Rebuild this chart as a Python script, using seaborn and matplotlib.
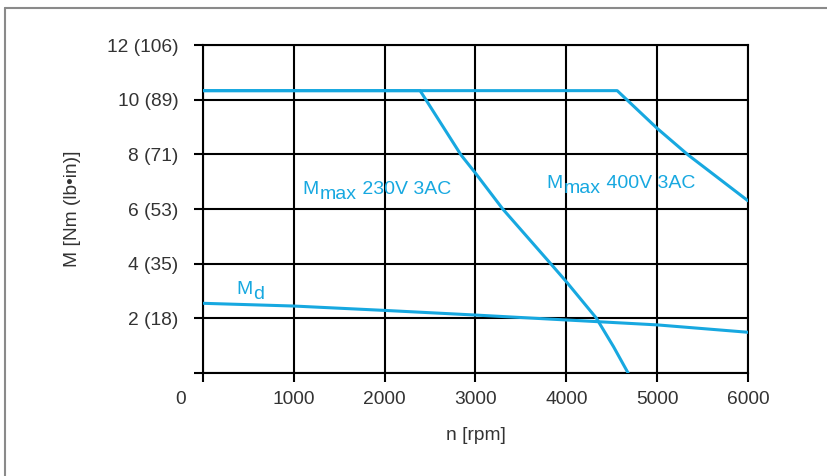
import numpy as np
import pandas as pd
import matplotlib
matplotlib.use("Agg")
import matplotlib.pyplot as plt
import matplotlib.transforms as mtransforms
from matplotlib.lines import Line2D
import seaborn as sns

# speed [rpm] / torque [Nm]
rpm_230 = [0, 2390, 2840, 3000, 3300, 3830, 4000, 4330, 4520, 4680]
torque_230 = [10.33, 10.33, 7.98, 7.31, 6.0, 3.99, 3.34, 2.01, 0.96, 0.0]

rpm_400 = [0, 4560, 5000, 5340, 6000]
torque_400 = [10.33, 10.33, 8.95, 7.98, 6.30]

rpm_md = [0, 1000, 2000, 3000, 4000, 5000, 6000]
torque_md = [2.55, 2.45, 2.29, 2.12, 1.94, 1.76, 1.49]

x_ticks = [0, 1000, 2000, 3000, 4000, 5000, 6000]
y_ticks = [0, 2, 4, 6, 8, 10, 12]
y_tick_labels = ["", "2 (18)", "4 (35)", "6 (53)", "8 (71)", "10 (89)", "12 (106)"]

sns.set_theme(style="white")
plt.rcParams["font.family"] = ["Liberation Sans", "DejaVu Sans"]

blue = "#17a8e0"
txt = "#333333"
lw_grid = 1.5

fig = plt.figure(figsize=(8.27, 4.76), dpi=100)
ax = fig.add_axes([203 / 827, 1 - 373 / 476, 545 / 827, 328 / 476])

df_230 = pd.DataFrame({"rpm": rpm_230, "M": torque_230})
df_400 = pd.DataFrame({"rpm": rpm_400, "M": torque_400})
df_md = pd.DataFrame({"rpm": rpm_md, "M": torque_md})

for d in (df_230, df_400, df_md):
    sns.lineplot(data=d, x="rpm", y="M", ax=ax, color=blue, linewidth=2.2,
                 sort=False, estimator=None, zorder=5)

ax.set_xlim(0, 6000)
ax.set_ylim(0, 12)
ax.set_xticks(x_ticks)
ax.set_xticklabels([str(v) for v in x_ticks])
ax.set_yticks(y_ticks)
ax.set_yticklabels(y_tick_labels)

ax.grid(True, color="black", linewidth=lw_grid)
ax.set_axisbelow(True)
for s in ax.spines.values():
    s.set_visible(True)
    s.set_color("black")
    s.set_linewidth(lw_grid)

ax.tick_params(axis="both", which="both", direction="out", length=6.8, width=lw_grid,
               color="black", labelsize=13.8, labelcolor=txt,
               bottom=True, left=True)
ax.tick_params(axis="y", pad=11)
ax.tick_params(axis="x", pad=6)

# the "0" label sits left of the origin
lab0 = ax.get_xticklabels()[0]
lab0.set_transform(lab0.get_transform() + mtransforms.ScaledTranslation(-0.22, 0, fig.dpi_scale_trans))

ax.set_xlabel("n [rpm]", fontsize=13.8, color=txt)
ax.set_ylabel("M [Nm (lb•in)]", fontsize=13.8, color=txt)
ax.xaxis.set_label_coords(0.5, -0.165)
ax.yaxis.set_label_coords(-0.224, 0.5)


def sub_label(x, y, sub, rest):
    t1 = ax.text(x, y, "M", color=blue, fontsize=14, va="baseline", ha="left", zorder=6)
    t2 = ax.annotate(sub, xy=(1, 0), xycoords=t1, xytext=(0.5, -3.5), textcoords="offset points",
                     color=blue, fontsize=14, va="bottom", ha="left", zorder=6)
    if rest:
        ax.annotate(rest, xy=(1, 0), xycoords=t2, xytext=(0, 3.5), textcoords="offset points",
                    color=blue, fontsize=14, va="bottom", ha="left", zorder=6)


sub_label(1098, 6.55, "max", " 230V 3AC")
sub_label(3784, 6.76, "max", " 400V 3AC")
sub_label(363, 2.90, "d", "")

# thin grey frame around the sheet
fig.add_artist(Line2D([5 / 827, 1], [1 - 8 / 476, 1 - 8 / 476], color="#8a8a8a", lw=1.5,
                      transform=fig.transFigure))
fig.add_artist(Line2D([5 / 827, 5 / 827], [0, 1 - 8 / 476], color="#8a8a8a", lw=1.5,
                      transform=fig.transFigure))

fig.savefig("out.png", dpi=100)
